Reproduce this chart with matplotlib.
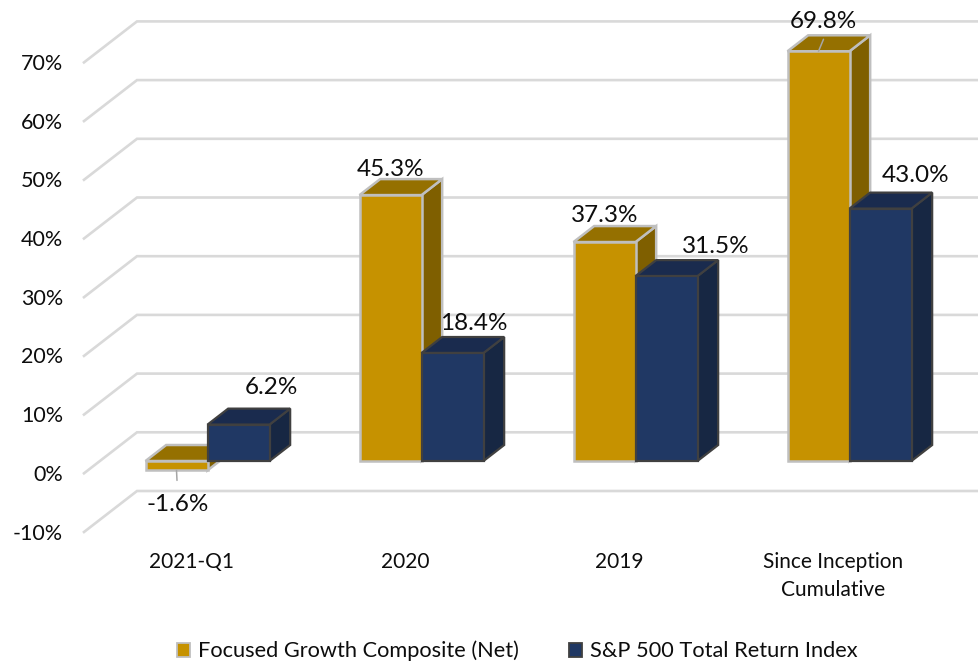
import matplotlib
matplotlib.use("Agg")
import matplotlib.pyplot as plt
from matplotlib.patches import Polygon, Patch
from matplotlib.transforms import ScaledTranslation

categories = ["2021-Q1", "2020", "2019", "Since Inception\nCumulative"]
series_names = ["Focused Growth Composite (Net)", "S&P 500 Total Return Index"]
focused = [-1.6, 45.3, 37.3, 69.8]
sp500 = [6.2, 18.4, 31.5, 43.0]
y_ticks = [-10, 0, 10, 20, 30, 40, 50, 60, 70]
focused_labels = ["-1.6%", "45.3%", "37.3%", "69.8%"]
sp500_labels = ["6.2%", "18.4%", "31.5%", "43.0%"]

plt.rcParams["font.family"] = ["Lato", "DejaVu Sans"]
W, H = 979, 661
PX_X = 214.0      # px per category
PX_Y = 5.87       # px per percent
FS = 17.5

fig = plt.figure(figsize=(W / 100, H / 100), dpi=100)
ax = fig.add_axes([84 / W, (H - 532) / H, (W - 84) / W, 532 / H])
ax.set_xlim((84 - 207.5) / PX_X, (W - 207.5) / PX_X)
ax.set_ylim(-10, 532 / PX_Y - 10)
for s in ax.spines.values():
    s.set_visible(False)

DX = 53 / PX_X     # full floor depth, category units
DY = 41 / PX_Y     # full floor depth, percent units
Z0, Z1 = 0.30, 0.69
BW = 62 / PX_X


def proj(x, v, z):
    return (x + (z - Z0) * DX, v + z * DY)


# gridlines
for t in y_ticks:
    x0 = ax.get_xlim()[0]
    xb = x0 + DX
    ax.plot([x0, xb, ax.get_xlim()[1]], [t, t + DY, t + DY], color="#d9d9d9",
            lw=1.9, solid_joinstyle="miter", zorder=1, clip_on=False)


def draw_bar(x, val, face, top, side, edge, zo, elw):
    lo, hi = min(0, val), max(0, val)
    xl, xr = x, x + BW
    f = [proj(xl, lo, Z0), proj(xr, lo, Z0), proj(xr, hi, Z0), proj(xl, hi, Z0)]
    t = [proj(xl, hi, Z0), proj(xr, hi, Z0), proj(xr, hi, Z1), proj(xl, hi, Z1)]
    s = [proj(xr, lo, Z0), proj(xr, lo, Z1), proj(xr, hi, Z1), proj(xr, hi, Z0)]
    for pts, c in ((s, side), (t, top), (f, face)):
        ax.add_patch(Polygon(pts, closed=True, facecolor=c, edgecolor=edge,
                             lw=elw, joinstyle="miter", zorder=zo))


GOLD = ("#c69200", "#957000", "#7f5f00", "#bfbfbf")
NAVY = ("#203864", "#1a2b4e", "#172743", "#404040")

# label offsets from each bar's front top centre (px)
focused_off = [(1, 34), (0, -26), (0, -27), (5, -30)]
sp500_off = [(33, -37), (21, -29), (49, -30), (35, -33)]

for i in range(4):
    gx = i - BW
    draw_bar(gx, focused[i], *GOLD, 3 + i * 2, 1.8)
    draw_bar(i, sp500[i], *NAVY, 4 + i * 2, 1.6)

    vals = [(gx, focused[i], focused_labels[i], focused_off[i]),
            (i, sp500[i], sp500_labels[i], sp500_off[i])]
    for bx, v, lab, (ox, oy) in vals:
        anchor = proj(bx + BW / 2, v, Z0)
        ax.annotate(lab, xy=anchor, xytext=(ox, -oy), textcoords="offset pixels",
                    ha="center", va="center", fontsize=FS, color="#0d0d0d",
                    zorder=30, annotation_clip=False)

# leader lines
xa, ya = proj(-BW / 2, focused[0], Z0)
ax.annotate("", xy=(xa, ya), xytext=(0.5, -10), textcoords=("offset pixels"),
            arrowprops=dict(arrowstyle="-", color="#a6a6a6", lw=1.1, shrinkA=0, shrinkB=0), zorder=31)
xa, ya = proj(3 - BW / 2, focused[3], Z0)
ax.annotate("", xy=(xa, ya), xytext=(5, 12), textcoords=("offset pixels"),
            arrowprops=dict(arrowstyle="-", color="#a6a6a6", lw=1.1, shrinkA=0, shrinkB=0), zorder=31)

ax.set_yticks(y_ticks)
ax.set_yticklabels([f"{t}%" for t in y_ticks], fontsize=15.5, color="#0d0d0d", va="center")
ax.set_xticks([i - 16.5 / PX_X for i in range(4)])
ax.set_xticklabels(categories, fontsize=15, color="#0d0d0d", linespacing=1.45)
ax.tick_params(axis="y", length=0, pad=15)
ax.tick_params(axis="x", length=0, pad=14.7)
shift = ScaledTranslation(0, -1.5 / 100, fig.dpi_scale_trans)
for lab in ax.get_yticklabels():
    lab.set_transform(lab.get_transform() + shift)

handles = [Patch(facecolor=GOLD[0], edgecolor=GOLD[3], lw=1.3, label=series_names[0]),
           Patch(facecolor=NAVY[0], edgecolor=NAVY[3], lw=1.3, label=series_names[1])]
fig.legend(handles=handles, loc="center", bbox_to_anchor=(517 / W, 1 - 651 / H), ncol=2,
           frameon=False, fontsize=15.7, handlelength=0.62, handleheight=0.62,
           handletextpad=0.35, columnspacing=2.3, labelcolor="#0d0d0d")

fig.savefig("out.png", dpi=100)
